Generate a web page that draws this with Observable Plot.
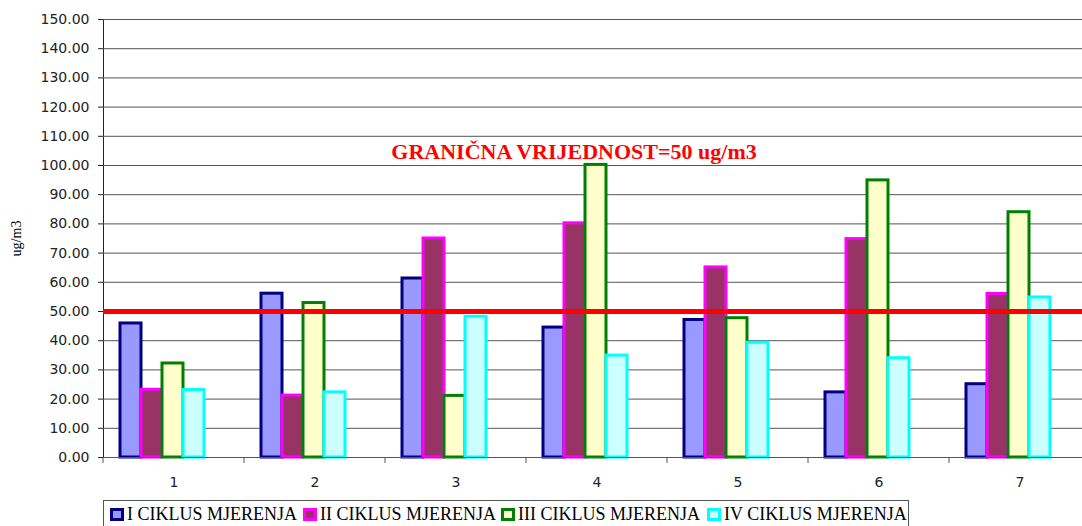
<!DOCTYPE html>
<html>
<head>
<meta charset="utf-8">
<script src="https://cdn.jsdelivr.net/npm/d3@7"></script>
<script src="https://cdn.jsdelivr.net/npm/@observablehq/plot@0.6"></script>
<style>
  html, body { margin: 0; padding: 0; background: #fff; overflow: hidden; width: 1082px; }
  #chart svg { max-width: none !important; }
  #legend {
    position: absolute; left: 103px; top: 500px; width: 806px; height: 40px;
    border: 1px solid #555; box-sizing: border-box; background: #fff;
    font-family: "Liberation Serif", "Times New Roman", serif; font-size: 18px; color: #000;
    white-space: nowrap;
  }
  #legend .item { position: absolute; top: 3px; display: flex; align-items: center; }
  #legend .sw { width: 14px; height: 13px; box-sizing: border-box; border: 3px solid; margin-right: 3px; }
</style>
</head>
<body>
<div id="chart"></div>
<div id="legend"></div>
<script>
// ---- data ----
const groups = ["1", "2", "3", "4", "5", "6", "7"];
const seriesNames = ["I CIKLUS MJERENJA", "II CIKLUS MJERENJA", "III CIKLUS MJERENJA", "IV CIKLUS MJERENJA"];
const seriesKeys = ["I", "II", "III", "IV"];
const valuesI   = [45.9, 56.1, 61.3, 44.5, 47.1, 22.3, 25.1];
const valuesII  = [23.2, 21.2, 75.0, 80.2, 65.1, 74.8, 56.0];
const valuesIII = [32.2, 52.9, 21.1, 100.2, 47.7, 94.9, 84.0];
const valuesIV  = [23.1, 22.3, 48.2, 34.9, 39.3, 34.0, 54.8];
const fillColors   = ["#9999FF", "#993366", "#FFFFCC", "#CCFFFF"];
const strokeColors = ["#000080", "#FF00FF", "#008000", "#00FFFF"];
const yTicks = d3.range(0, 151, 10);
const limitValue = 50;
const limitLabel = "GRANIČNA VRIJEDNOST=50 ug/m3";
const yLabel = "ug/m3";

const allValues = [valuesI, valuesII, valuesIII, valuesIV];
const table = [];
seriesKeys.forEach((s, si) => {
  groups.forEach((g, gi) => {
    table.push({group: g, series: s, value: allValues[si][gi], fill: fillColors[si], stroke: strokeColors[si]});
  });
});

const chart = Plot.plot({
  width: 1092,
  height: 498,
  marginLeft: 101,
  marginRight: 0,
  marginTop: 19,
  marginBottom: 41,
  style: {fontFamily: "'DejaVu Sans', Verdana, sans-serif", fontSize: "14px", background: "#fff", color: "#222", maxWidth: "none"},
  fx: {domain: groups, padding: 0, label: null, axis: "bottom", tickSize: 0, tickPadding: 20},
  x: {domain: seriesKeys, axis: null, paddingInner: 0, paddingOuter: 1.275, align: 0.3},
  y: {domain: [0, 150], ticks: yTicks, tickFormat: d3.format(".2f"), tickSize: 5, tickPadding: 9,
      label: yLabel, labelArrow: "none", labelAnchor: "center", labelOffset: 92, line: true, grid: false},
  color: {type: "identity"},
  marks: [
    Plot.ruleY(yTicks, {stroke: "#555", strokeWidth: 1}),
    Plot.barY(table, {fx: "group", x: "series", y: "value", fill: "fill", stroke: "stroke", strokeWidth: 3}),
    Plot.ruleY([limitValue], {stroke: "#FF0000", strokeWidth: 5}),
    Plot.ruleY([0], {stroke: "#555", strokeWidth: 1}),
    Plot.text([{group: "4", y: 104.8, t: limitLabel}], {
      fx: "group", y: "y", text: "t", dx: -23, fill: "#FF0000",
      fontFamily: "'Liberation Serif', 'Times New Roman', serif", fontWeight: "bold", fontSize: 22
    })
  ]
});
document.getElementById("chart").appendChild(chart);

// boundary ticks on the category axis, from the fx scale
const fxs = chart.scale("fx");
const ys = chart.scale("y");
const svg = d3.select(chart.tagName.toLowerCase() === "svg" ? chart : chart.querySelector("svg"));
const y0 = ys.apply(0);
const tickG = svg.append("g").attr("stroke", "#555");
groups.forEach(g => {
  const x = fxs.apply(g);
  tickG.append("line").attr("x1", x).attr("x2", x).attr("y1", y0).attr("y2", y0 + 6);
});
// style y-axis label as serif, without arrow
svg.selectAll("text").filter(function() { return this.textContent.trim().startsWith(yLabel); })
  .each(function() { d3.select(this).selectAll("tspan").remove(); })
  .text(yLabel)
  .attr("font-family", "'Liberation Serif', 'Times New Roman', serif").attr("font-size", 14).attr("fill", "#000");

// legend
const legend = document.getElementById("legend");
const itemLefts = [6, 199, 397, 603];
seriesNames.forEach((name, i) => {
  const it = document.createElement("div");
  it.className = "item";
  it.style.left = itemLefts[i] + "px";
  const sw = document.createElement("span");
  sw.className = "sw";
  sw.style.background = fillColors[i];
  sw.style.borderColor = strokeColors[i];
  const tx = document.createElement("span");
  tx.textContent = name;
  it.appendChild(sw); it.appendChild(tx);
  legend.appendChild(it);
});
</script>
</body>
</html>
